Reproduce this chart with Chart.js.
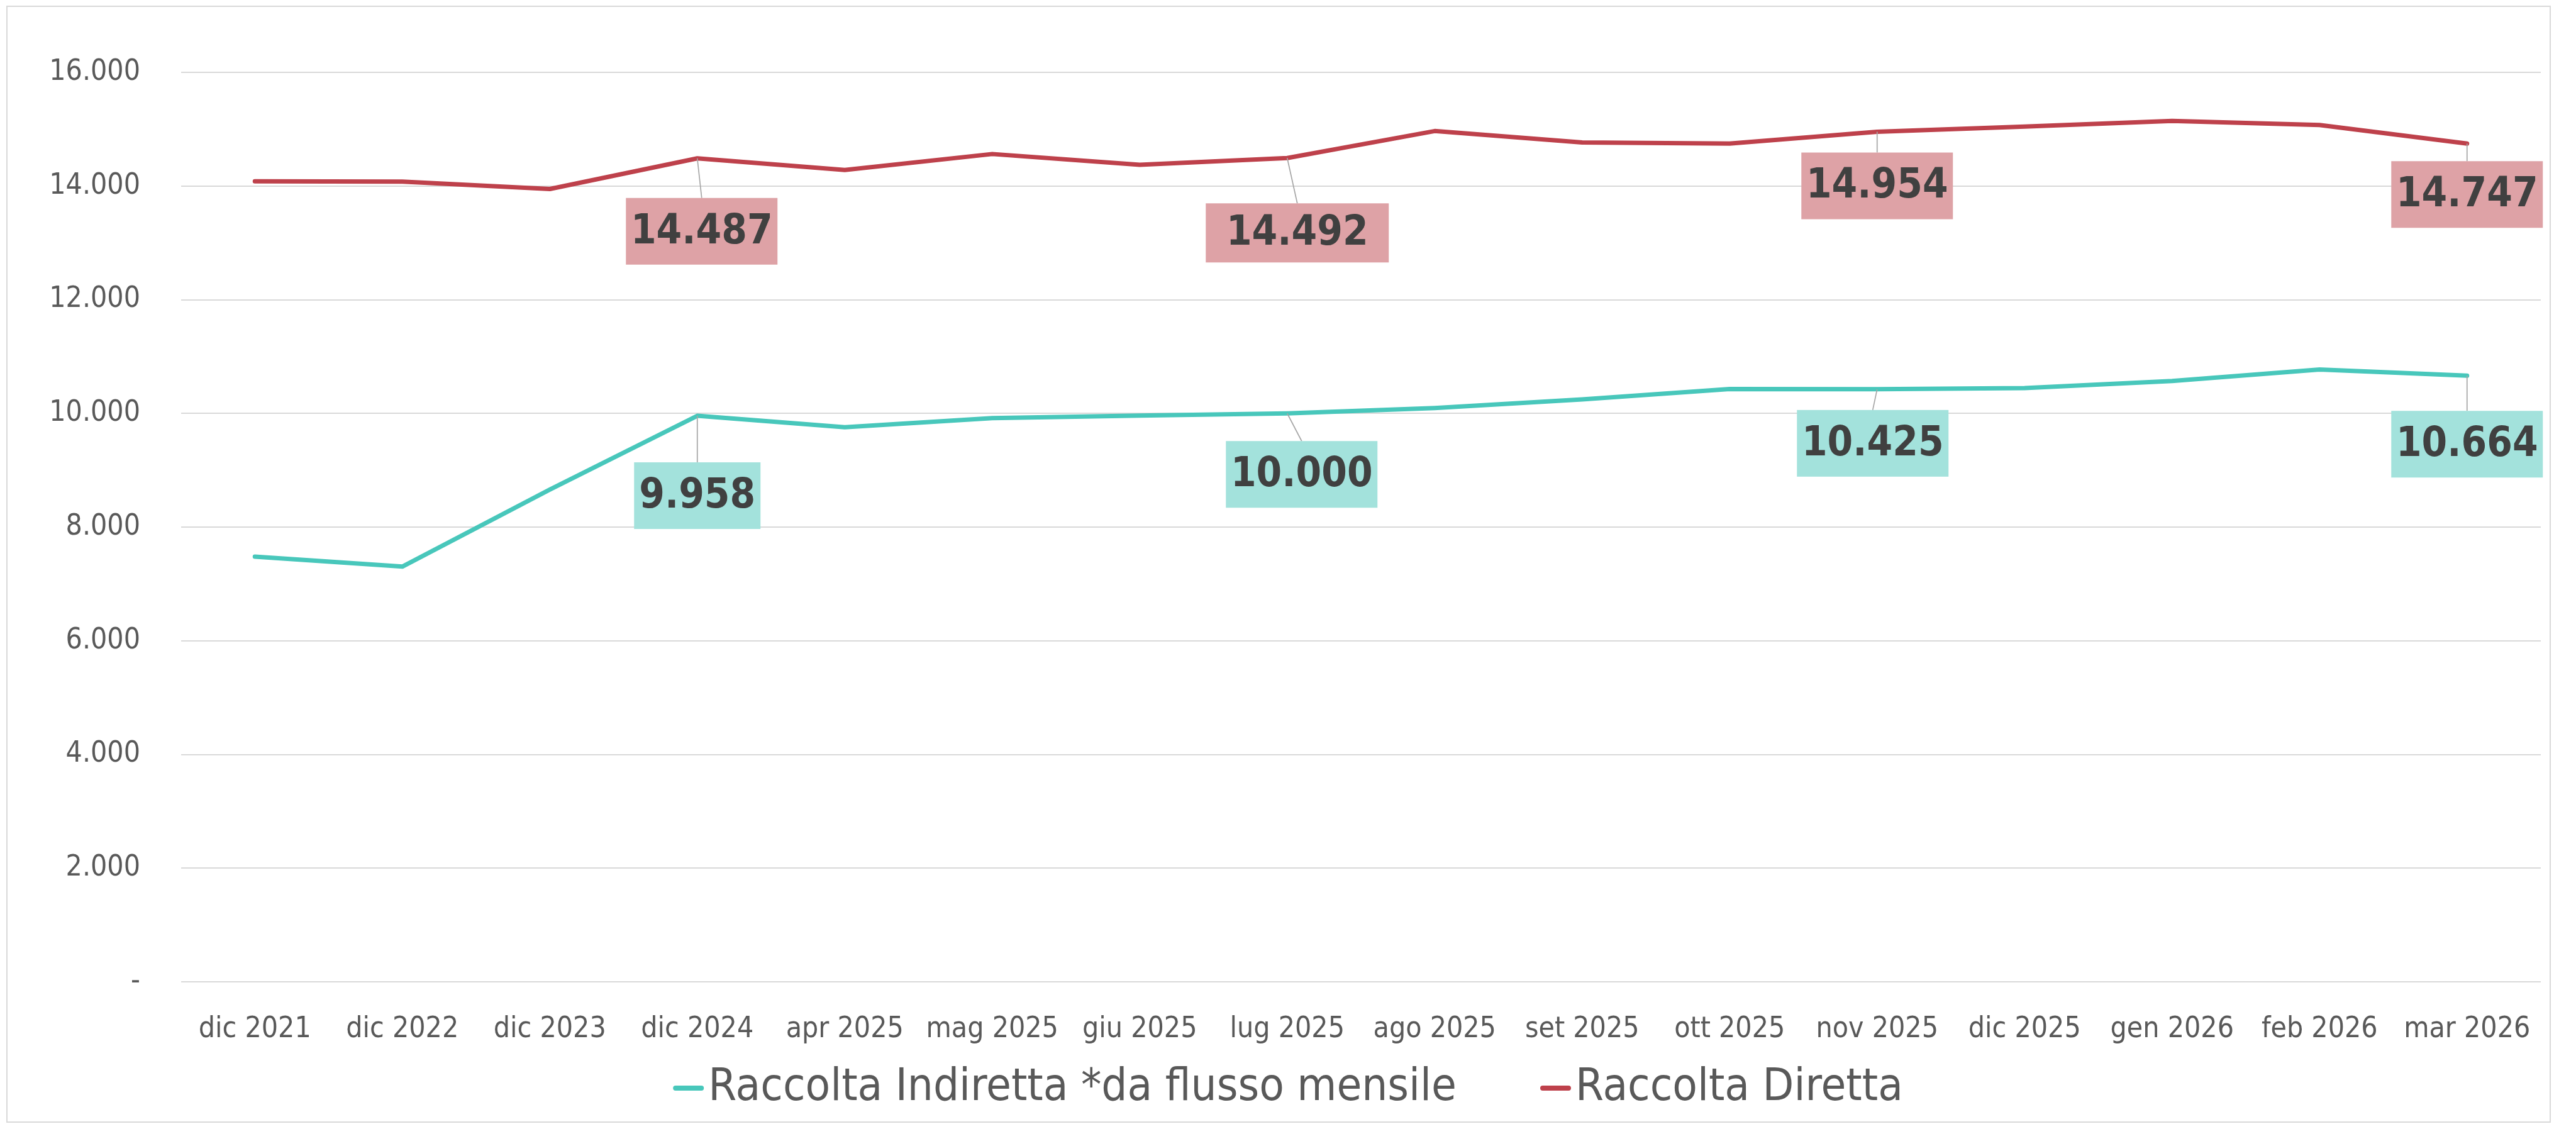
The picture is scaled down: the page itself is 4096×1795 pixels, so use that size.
<!DOCTYPE html>
<html>
<head>
<meta charset="utf-8">
<script src="https://cdn.jsdelivr.net/npm/chart.js@4.4.1/dist/chart.umd.min.js"></script>
<style>
  html, body { margin: 0; padding: 0; background: #fff; overflow: hidden; }
  #frame { position: absolute; left: 10px; top: 9px; width: 4042px; height: 1772px; border: 2px solid #d9d9d9; pointer-events: none; }
  canvas { position: absolute; left: 0; top: 0; }
</style>
</head>
<body>
<canvas id="chart" width="4096" height="1795"></canvas>
<div id="frame"></div>
<script>
// categories and series
var months = ['dic 2021', 'dic 2022', 'dic 2023', 'dic 2024', 'apr 2025', 'mag 2025', 'giu 2025', 'lug 2025',
              'ago 2025', 'set 2025', 'ott 2025', 'nov 2025', 'dic 2025', 'gen 2026', 'feb 2026', 'mar 2026'];
var indiretta = [7479, 7305, 8660, 9958, 9757, 9916, 9960, 10000, 10095, 10245, 10430, 10425, 10445, 10569, 10773, 10664];
var diretta = [14084, 14078, 13948, 14487, 14283, 14563, 14374, 14492, 14967, 14767, 14746, 14954, 15047, 15144, 15074, 14747];
var labelled = [3, 7, 11, 15];
var yTicks = [0, 2000, 4000, 6000, 8000, 10000, 12000, 14000, 16000];

var FONT = '"DejaVu Sans Condensed", "Liberation Sans", sans-serif';

function fmt(v) {
    return String(v).replace(/\B(?=(\d{3})+(?!\d))/g, '.');
}

// boxed value labels with a leader line back to the point
var valueLabels = {
    id: 'valueLabels',
    afterDatasetsDraw: function(chart, args, opts) {
        var ctx = chart.ctx;
        chart.data.datasets.forEach(function(ds, d) {
            var meta = chart.getDatasetMeta(d);
            var boxes = opts.boxes[d];
            labelled.forEach(function(i, k) {
                var pt = meta.data[i];
                var b = boxes[k];
                var cx = pt.x + b.dx, cy = pt.y + b.dy;
                ctx.save();
                ctx.strokeStyle = '#a6a6a6';
                ctx.lineWidth = 1.7;
                ctx.beginPath();
                ctx.moveTo(pt.x, pt.y);
                ctx.lineTo(cx, cy - b.h / 2);
                ctx.stroke();
                ctx.fillStyle = opts.fills[d];
                ctx.fillRect(cx - b.w / 2, cy - b.h / 2, b.w, b.h);
                ctx.fillStyle = '#404040';
                ctx.font = 'bold 65px ' + FONT;
                ctx.textAlign = 'center';
                ctx.textBaseline = 'middle';
                ctx.fillText(fmt(ds.data[i]), cx, cy + 2);
                ctx.restore();
            });
        });
    }
};

// legend drawn by hand: short line marker sitting right next to its text
var tightLegend = {
    id: 'tightLegend',
    afterDraw: function(chart, args, opts) {
        var ctx = chart.ctx;
        var sets = chart.data.datasets;
        ctx.save();
        ctx.font = opts.size + 'px ' + FONT;
        var widths = sets.map(function(ds) { return ctx.measureText(ds.label).width; });
        var total = 0;
        widths.forEach(function(w, i) { total += opts.marker + opts.gap + w + (i ? opts.spacing : 0); });
        var x = chart.width / 2 - total / 2;
        ctx.textAlign = 'left';
        ctx.textBaseline = 'middle';
        sets.forEach(function(ds, i) {
            ctx.strokeStyle = ds.borderColor;
            ctx.lineWidth = 8;
            ctx.lineCap = 'round';
            ctx.beginPath();
            ctx.moveTo(x + 4, opts.y);
            ctx.lineTo(x + opts.marker - 4, opts.y);
            ctx.stroke();
            x += opts.marker + opts.gap;
            ctx.fillStyle = '#595959';
            ctx.fillText(ds.label, x, opts.y);
            x += widths[i] + opts.spacing;
        });
        ctx.restore();
    }
};

var ctx = document.getElementById('chart').getContext('2d');
var chart = new Chart(ctx, {
    type: 'line',
    data: {
        labels: months,
        datasets: [{
            label: 'Raccolta Indiretta *da flusso mensile',
            data: indiretta,
            borderColor: '#48c7bb',
            backgroundColor: '#48c7bb',
            borderWidth: 7,
            borderCapStyle: 'round',
            borderJoinStyle: 'round',
            pointRadius: 0,
            tension: 0
        }, {
            label: 'Raccolta Diretta',
            data: diretta,
            borderColor: '#be414b',
            backgroundColor: '#be414b',
            borderWidth: 7,
            borderCapStyle: 'round',
            borderJoinStyle: 'round',
            pointRadius: 0,
            tension: 0
        }]
    },
    options: {
        responsive: false,
        devicePixelRatio: 1,
        animation: false,
        layout: { padding: { left: 0, right: 56, top: 115, bottom: 129 } },
        plugins: {
            tooltip: { enabled: false },
            legend: { display: false },
            tightLegend: { y: 1730, size: 72, marker: 49, gap: 7, spacing: 133 },
            valueLabels: {
                fills: ['#a3e2dc', '#dea2a6'],
                boxes: [
                    [{ dx: 0, dy: 127, w: 201, h: 106 }, { dx: 23, dy: 97, w: 241, h: 106 },
                     { dx: -7, dy: 86, w: 241, h: 106 }, { dx: 0, dy: 109, w: 241, h: 106 }],
                    [{ dx: 7, dy: 116, w: 241, h: 106 }, { dx: 16, dy: 119, w: 291, h: 94 },
                     { dx: 0, dy: 86, w: 241, h: 106 }, { dx: 0, dy: 81, w: 241, h: 106 }]
                ]
            }
        },
        scales: {
            x: {
                offset: true,
                grid: { display: false, offset: true },
                border: { display: false },
                ticks: { color: '#595959', padding: 40, maxRotation: 0, autoSkip: false, font: { family: FONT, size: 46 } },
                afterFit: function(scale) { scale.height = 105; }
            },
            y: {
                min: 0,
                max: 16000,
                afterBuildTicks: function(scale) { scale.ticks = yTicks.map(function(v) { return { value: v }; }); },
                grid: { color: '#d9d9d9', lineWidth: 2, drawTicks: false },
                border: { display: false },
                ticks: {
                    color: '#595959',
                    padding: 65,
                    font: { family: FONT, size: 46 },
                    callback: function(v) { return v === 0 ? '-' : fmt(v); }
                },
                afterFit: function(scale) { scale.width = 288; }
            }
        }
    },
    plugins: [valueLabels, tightLegend]
});
</script>
</body>
</html>
